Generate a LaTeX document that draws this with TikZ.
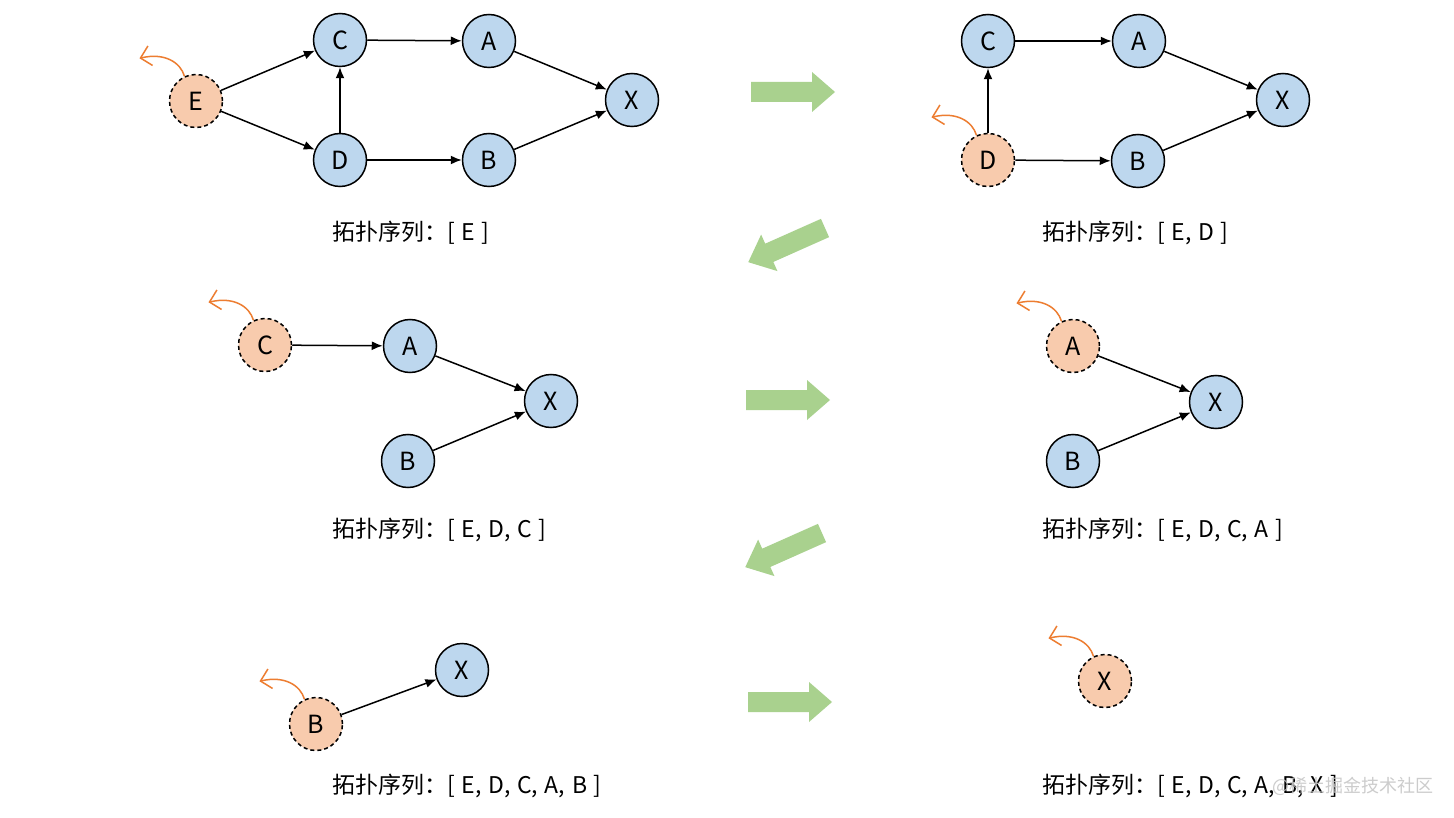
\documentclass[tikz,border=0pt]{standalone}
\usepackage{fontspec}
\setmainfont[WordSpace=1.3]{Noto Sans CJK SC}
\usetikzlibrary{arrows.meta,calc}
\definecolor{nblue}{HTML}{BDD7EE}
\definecolor{norange}{HTML}{F8CBAD}
\definecolor{curv}{HTML}{ED7D31}
\definecolor{bgreen}{HTML}{A9D18E}
\tikzset{
  vtx/.style={circle, draw=black, line width=1.5pt, minimum size=53pt, inner sep=0pt, fill=nblue, font=\fontsize{25}{25}\selectfont},
  done/.style={vtx, fill=norange, dash pattern=on 4pt off 3pt},
  edge/.style={-{Latex[length=11pt,width=9pt]}, line width=1.5pt},
  orarr/.style={draw=curv, line width=1.5pt, -{Straight Barb[length=10pt,width=20pt]}},
  lbl/.style={anchor=west, inner sep=0pt, font=\fontsize{23}{23}\selectfont},
  garrow/.style={fill=bgreen},
}
\newcommand{\backarrow}[2]{%
  \coordinate (s#2) at (#1.115);
  \coordinate (t#2) at ($(s#2)+(-45,-18)$);
  \draw[orarr] (s#2) .. controls ($(s#2)+(-4,-14)$) and ($(t#2)+(25,-6)$) .. (t#2);
}
\newcommand{\bigarrow}{(0,-10) -- (61,-10) -- (61,-20) -- (84,0) -- (61,20) -- (61,10) -- (0,10) -- cycle}
\begin{document}
\begin{tikzpicture}[x=1pt,y=-1pt]
\fill[white] (0,0) rectangle (1454,818);
\useasboundingbox (0,0) rectangle (1454,818);

% Panel 1
\node[done] (E1) at (196,101) {E};
\node[vtx] (C1) at (340,40) {C};
\node[vtx] (A1) at (489,41) {A};
\node[vtx] (X1) at (632,100) {X};
\node[vtx] (D1) at (340,160) {D};
\node[vtx] (B1) at (489,160) {B};
\draw[edge] (E1) -- (C1);
\draw[edge] (E1) -- (D1);
\draw[edge] (C1) -- (A1);
\draw[edge] (D1) -- (C1);
\draw[edge] (D1) -- (B1);
\draw[edge] (A1) -- (X1);
\draw[edge] (B1) -- (X1);
\backarrow{E1}{1}
\node[lbl] (L1) at (332,233) {拓扑序列：[ E ]};

% Panel 2
\node[vtx] (C2) at (988,41) {C};
\node[vtx] (A2) at (1139,41) {A};
\node[vtx] (X2) at (1283,100) {X};
\node[done] (D2) at (988,160) {D};
\node[vtx] (B2) at (1138,161) {B};
\draw[edge] (D2) -- (C2);
\draw[edge] (C2) -- (A2);
\draw[edge] (D2) -- (B2);
\draw[edge] (A2) -- (X2);
\draw[edge] (B2) -- (X2);
\backarrow{D2}{2}
\node[lbl] (L2) at (1042,233) {拓扑序列：[ E, D ]};

% Panel 3
\node[done] (C3) at (265,345) {C};
\node[vtx] (A3) at (410,346) {A};
\node[vtx] (X3) at (551,401) {X};
\node[vtx] (B3) at (408,461) {B};
\draw[edge] (C3) -- (A3);
\draw[edge] (A3) -- (X3);
\draw[edge] (B3) -- (X3);
\backarrow{C3}{3}
\node[lbl] (L3) at (332,530) {拓扑序列：[ E, D, C ]};

% Panel 4
\node[done] (A4) at (1073,346) {A};
\node[vtx] (X4) at (1216,402) {X};
\node[vtx] (B4) at (1073,461) {B};
\draw[edge] (A4) -- (X4);
\draw[edge] (B4) -- (X4);
\backarrow{A4}{4}
\node[lbl] (L4) at (1042,530) {拓扑序列：[ E, D, C, A ]};

% Panel 5
\node[done] (B5) at (316,724) {B};
\node[vtx] (X5) at (462,670) {X};
\draw[edge] (B5) -- (X5);
\backarrow{B5}{5}
\node[lbl] (L5) at (332,786) {拓扑序列：[ E, D, C, A, B ]};

% Panel 6
\node[done] (X6) at (1105,681) {X};
\backarrow{X6}{6}
\node[lbl] (L6) at (1042,786) {拓扑序列：[ E, D, C, A, B, X ]};

% Green arrows
\fill[garrow, shift={(751,92)}] \bigarrow;
\fill[garrow, shift={(825,228)}, rotate=204] \bigarrow;
\fill[garrow, shift={(746,400)}] \bigarrow;
\fill[garrow, shift={(822,533)}, rotate=204] \bigarrow;
\fill[garrow, shift={(748,702)}] \bigarrow;

% watermark
\node[anchor=west, inner sep=0pt, text=black!22, opacity=0.9, font=\fontsize{18}{18}\selectfont] (W) at (1272,786) {@稀土掘金技术社区};
\end{tikzpicture}
\end{document}
